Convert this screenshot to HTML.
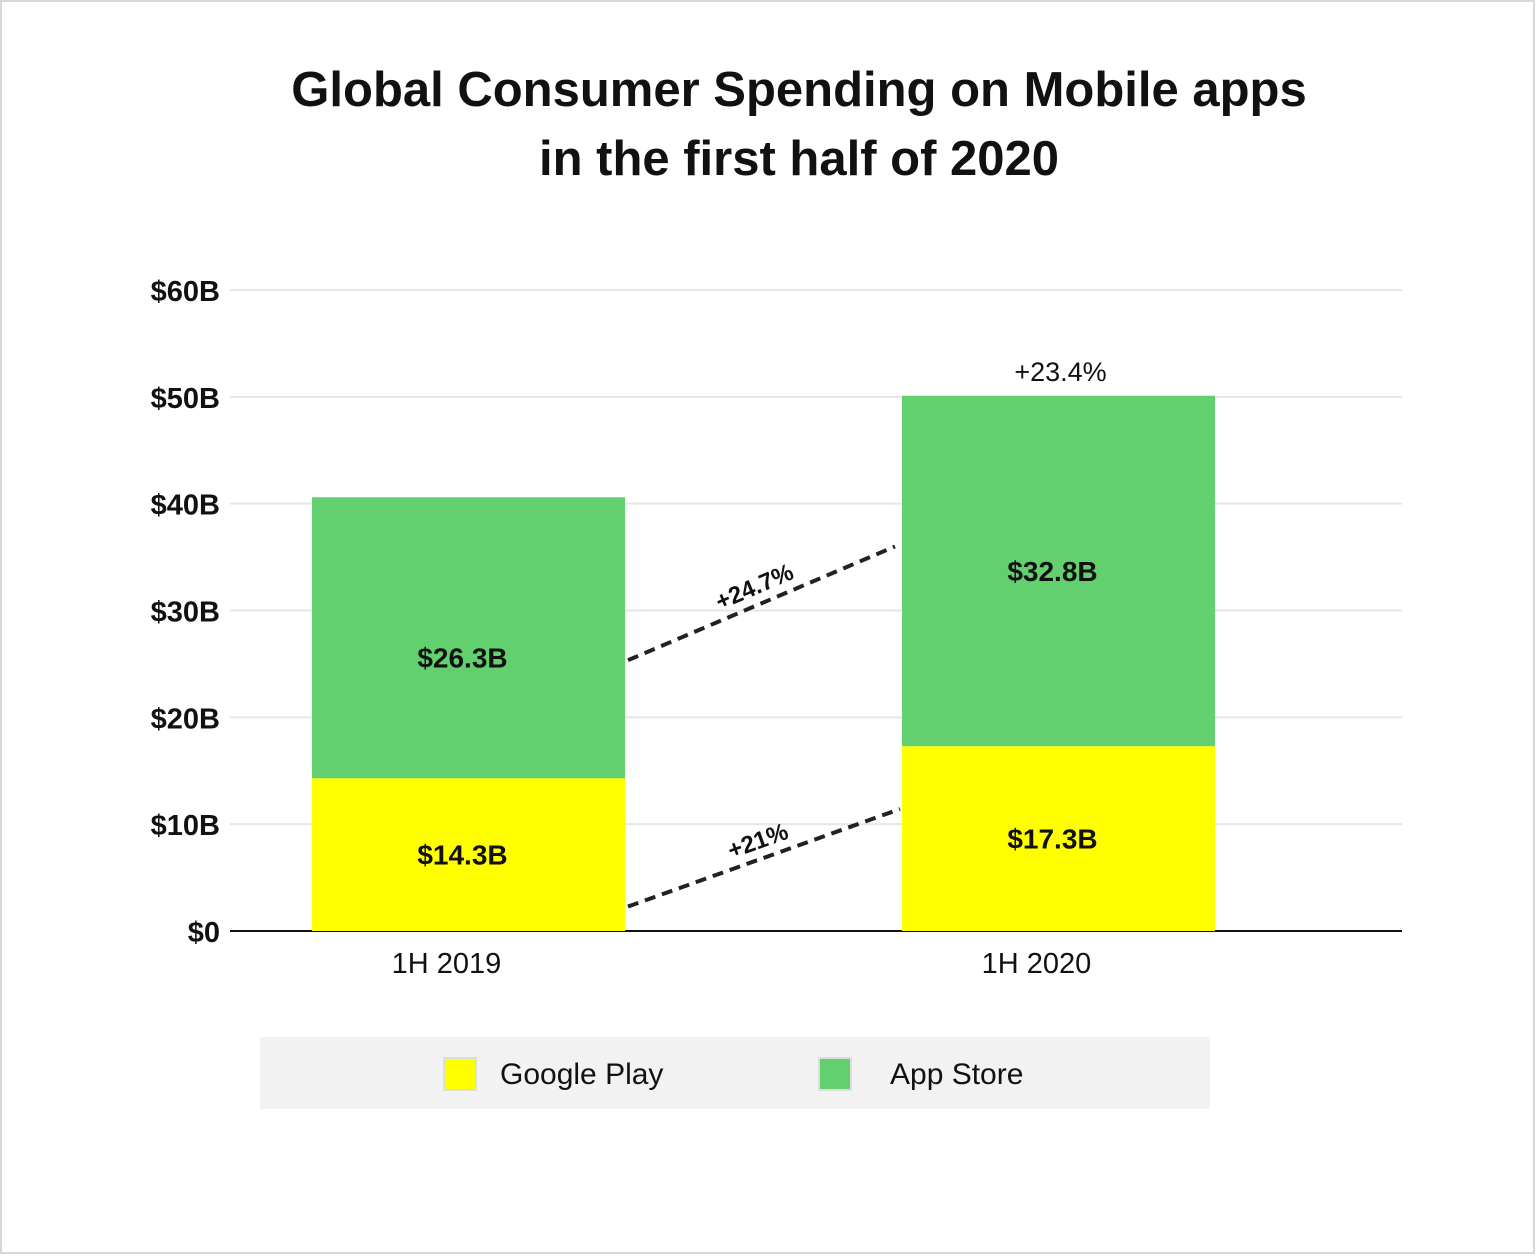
<!DOCTYPE html>
<html><head><meta charset="utf-8">
<style>
html,body{margin:0;padding:0;background:#fff;}
body{width:1536px;height:1255px;overflow:hidden;font-family:"Liberation Sans",sans-serif;}
</style></head>
<body>
<svg width="1536" height="1255" viewBox="0 0 1536 1255" id="chart">
<rect x="1" y="1" width="1533" height="1252" fill="#fff" stroke="#d8d8d8" stroke-width="2"/>
<text x="799" y="106" text-anchor="middle" font-size="49" font-weight="bold" fill="#111">Global Consumer Spending on Mobile apps</text>
<text x="799" y="175" text-anchor="middle" font-size="49" font-weight="bold" fill="#111">in the first half of 2020</text>
<g id="grid"></g>
<g id="bars"></g>
<g id="ann"></g>
<rect x="260" y="1037" width="950" height="72" fill="#f2f2f2"/>
<rect x="444" y="1058" width="32" height="32" fill="#ffff00" stroke="#ddd" stroke-width="2"/>
<text x="500" y="1084" font-size="30" fill="#111">Google Play</text>
<rect x="819" y="1058" width="32" height="32" fill="#62d06e" stroke="#ddd" stroke-width="2"/>
<text x="890" y="1084" font-size="30" fill="#111">App Store</text>
</svg>
<script>
const categories = ["1H 2019", "1H 2020"];
const googlePlay = [14.3, 17.3];
const appStore = [26.3, 32.8];
const tickValues = [0, 10, 20, 30, 40, 50, 60];
const tickLabels = ["$0", "$10B", "$20B", "$30B", "$40B", "$50B", "$60B"];
const totalGrowth = ["", "+23.4%"];
const gpGrowth = "+21%";
const asGrowth = "+24.7%";

const NS = "http://www.w3.org/2000/svg";
const y0 = 931, yTop = 290, vMax = 60;
const y = v => y0 - (v / vMax) * (y0 - yTop);
const barLeft = i => 312 + i * 590;
const barW = 313;
function mk(tag, attrs, parent, text) {
  const e = document.createElementNS(NS, tag);
  for (const k in attrs) e.setAttribute(k, attrs[k]);
  if (text !== undefined) e.textContent = text;
  parent.appendChild(e);
  return e;
}
const grid = document.getElementById('grid');
tickValues.forEach((v, i) => {
  const l = mk('line', {x1: 230, x2: 1402, y1: y(v), y2: y(v), stroke: v === 0 ? '#111' : '#e6e6e6', 'stroke-width': 2}, grid);
  
  
  const t = mk('text', {x: 220, y: y(v) + 11, 'text-anchor': 'end', 'font-size': 29, 'font-weight': 'bold', fill: '#111'}, grid, tickLabels[i]);
  
  
});
const bars = document.getElementById('bars');
categories.forEach((c, i) => {
  const x = barLeft(i);
  const g = mk('rect', {x: x, y: y(googlePlay[i]), width: barW, height: y0 - y(googlePlay[i]), fill: '#ffff00'}, bars);
  
  
  const top = googlePlay[i] + appStore[i];
  const a = mk('rect', {x: x, y: y(top), width: barW, height: y(googlePlay[i]) - y(top), fill: '#62d06e'}, bars);
  
  
  const gl = mk('text', {x: x + barW / 2 - 6, y: (y0 + y(googlePlay[i])) / 2 + 10, 'text-anchor': 'middle', 'font-size': 28, 'font-weight': 'bold', fill: '#111'}, bars, '$' + googlePlay[i] + 'B');
  
  
  const al = mk('text', {x: x + barW / 2 - 6, y: (y(googlePlay[i]) + y(top)) / 2 + 10 + (i === 0 ? 20 : 0), 'text-anchor': 'middle', 'font-size': 28, 'font-weight': 'bold', fill: '#111'}, bars, '$' + appStore[i] + 'B');
  
  
  const cl = mk('text', {x: x + barW / 2 - 22, y: 973, 'text-anchor': 'middle', 'font-size': 29, fill: '#111'}, bars, c);
  
  
  if (totalGrowth[i]) {
    const tg = mk('text', {x: x + barW / 2 + 2, y: y(top) - 15, 'text-anchor': 'middle', 'font-size': 27, fill: '#111'}, bars, totalGrowth[i]);
    
    
  }
});
const ann = document.getElementById('ann');
function growthLine(v1, v2, label, name, xEnd) {
  const x1 = barLeft(0) + barW + 3, x2 = xEnd;
  const y1 = y(v1), y2 = y(v2);
  const l = mk('line', {x1: x1, y1: y1, x2: x2, y2: y2, stroke: '#222', 'stroke-width': 4, 'stroke-dasharray': '11 7'}, ann);
  
  
  const ang = Math.atan2(y2 - y1, x2 - x1) * 180 / Math.PI;
  const mx = (x1 + x2) / 2, my = (y1 + y2) / 2;
  const t = mk('text', {x: mx, y: my - 10, 'text-anchor': 'middle', 'font-size': 24, 'font-weight': 'bold', fill: '#111', transform: `rotate(${ang} ${mx} ${my})`}, ann, label);
  
  
}
growthLine(googlePlay[0] * 0.16, googlePlay[1] * 0.66, gpGrowth, 'google-play-growth', 900);
growthLine(googlePlay[0] + appStore[0] * 0.42, googlePlay[1] + appStore[1] * 0.57, asGrowth, 'app-store-growth', 895);
</script>
</body></html>
